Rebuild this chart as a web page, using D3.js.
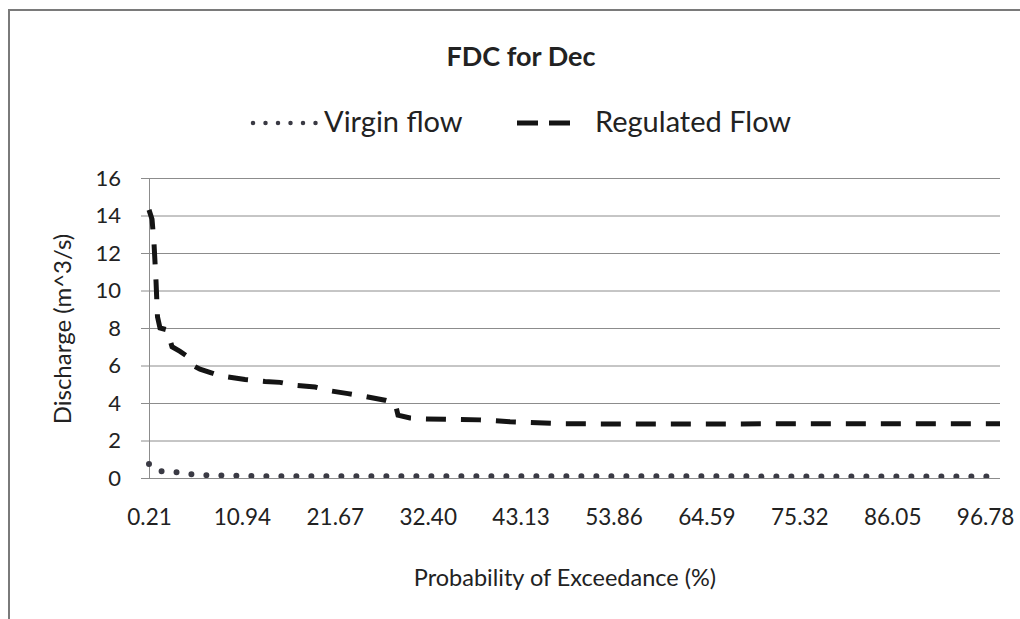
<!DOCTYPE html>
<html><head><meta charset="utf-8">
<script src="https://cdn.jsdelivr.net/npm/d3@7"></script>
<style>
body{margin:0;background:#fff}
svg text{font-family:Lato,"Open Sans",sans-serif;fill:#222}
</style>
</head><body>
<svg id="chart" width="1020" height="619"></svg>
<script>
// ---- data ----
const xTickValues = [0.21, 10.94, 21.67, 32.40, 43.13, 53.86, 64.59, 75.32, 86.05, 96.78];
const xTickLabels = ["0.21","10.94","21.67","32.40","43.13","53.86","64.59","75.32","86.05","96.78"];
const yTickValues = [0, 2, 4, 6, 8, 10, 12, 14, 16];

const regulatedP = [0.21, 0.56, 0.79, 1.02, 1.19, 1.48, 2.29, 2.87, 3.79, 4.60, 5.29, 6.10, 7.49, 8.41, 11.30, 13.61, 15.34, 17.08, 19.39, 21.12, 23.20, 25.16, 27.47, 28.63, 28.97, 30.36, 32.09, 38.45, 41.91, 47.69, 54.62, 98.50];
const regulatedQ = [14.3, 13.8, 12.5, 10.5, 8.6, 8.0, 7.9, 7.0, 6.75, 6.5, 6.0, 5.8, 5.6, 5.45, 5.25, 5.15, 5.1, 4.95, 4.85, 4.65, 4.5, 4.35, 4.15, 4.0, 3.35, 3.2, 3.15, 3.1, 3.0, 2.9, 2.88, 2.9];

const virginP = [0.21, 0.90, 1.71, 3.44, 5.06, 6.91, 13.03, 98.50];
const virginQ = [0.75, 0.45, 0.36, 0.30, 0.20, 0.15, 0.10, 0.08];

const seriesNames = ["Virgin flow", "Regulated Flow"];
const chartTitle = "FDC for Dec";
const xTitle = "Probability of Exceedance (%)";
const yTitle = "Discharge (m^3/s)";

(function () {
// ---- layout ----
const svg = d3.select("#chart");
const pL = 149, pR = 1000, pT = 178, pB = 478;
const x = d3.scaleLinear().domain([0.21, 98.5]).range([pL, pR]);
const y = d3.scaleLinear().domain([0, 16]).range([pB, pT]);
const gridColor = "#8c8c8c";

// outer frame
svg.append("rect").attr("x", 9).attr("y", 10).attr("width", 1100).attr("height", 700)
  .attr("fill", "none").attr("stroke", "#7a7a7a").attr("stroke-width", 2);

// title
svg.append("text").attr("x", 521).attr("y", 66).attr("text-anchor", "middle")
  .style("font-size", "27px").style("font-weight", "bold").text(chartTitle);

// gridlines
const grid = svg.append("g").attr("transform", `translate(${pL},0)`)
  .call(d3.axisLeft(y).tickValues(yTickValues).tickSize(-(pR - pL)).tickFormat(""));
grid.select(".domain").remove();
grid.selectAll(".tick line").attr("stroke", gridColor).attr("stroke-width", 1);

// y axis with outer ticks + labels
const ya = svg.append("g").attr("transform", `translate(${pL},0)`)
  .call(d3.axisLeft(y).tickValues(yTickValues).tickSize(8).tickPadding(20));
ya.select(".domain").attr("stroke", gridColor);
ya.selectAll(".tick line").attr("stroke", gridColor);
ya.selectAll(".tick text").style("font-size", "22px").attr("fill", "#222");

// x axis labels
const xa = svg.append("g").attr("transform", `translate(0,${pB})`)
  .call(d3.axisBottom(x).tickValues(xTickValues)
    .tickFormat((d, i) => xTickLabels[i]).tickSize(0).tickPadding(31));
xa.select(".domain").remove();
xa.selectAll(".tick text").style("font-size", "22.5px").attr("fill", "#222");

// axis titles
svg.append("text").attr("transform", "translate(71,329) rotate(-90)")
  .attr("text-anchor", "middle").style("font-size", "24px").text(yTitle);
svg.append("text").attr("x", 565).attr("y", 586).attr("text-anchor", "middle")
  .style("font-size", "23.5px").text(xTitle);

// clip for series
svg.append("clipPath").attr("id", "plotclip").append("rect")
  .attr("x", pL - 6).attr("y", 160).attr("width", pR - pL + 10).attr("height", pB - 160);

const line = d3.line().x(d => x(d[0])).y(d => y(d[1]));
const virgin = virginP.map((p, i) => [p, virginQ[i]]);
const regulated = regulatedP.map((p, i) => [p, regulatedQ[i]]);

svg.append("path").datum(virgin).attr("d", line).attr("clip-path", "url(#plotclip)")
  .attr("fill", "none").attr("stroke", "#3a3a44").attr("stroke-width", 6)
  .attr("stroke-linecap", "round").attr("stroke-dasharray", "0 15");

svg.append("path").datum(regulated).attr("d", line)
  .attr("fill", "none").attr("stroke", "#141414").attr("stroke-width", 5)
  .attr("stroke-dasharray", "20 15");

// legend
const lg = svg.append("g");
lg.append("line").attr("x1", 253).attr("x2", 316.5).attr("y1", 123).attr("y2", 123)
  .attr("stroke", "#3a3a44").attr("stroke-width", 4.5).attr("stroke-linecap", "round")
  .attr("stroke-dasharray", "0 12.5");
lg.append("text").attr("x", 324).attr("y", 132).style("font-size", "29px").text(seriesNames[0]);
lg.append("line").attr("x1", 517).attr("x2", 570).attr("y1", 123).attr("y2", 123)
  .attr("stroke", "#141414").attr("stroke-width", 5).attr("stroke-dasharray", "21 11");
lg.append("text").attr("x", 595).attr("y", 132).style("font-size", "29px").text(seriesNames[1]);
})();
</script>
</body></html>
